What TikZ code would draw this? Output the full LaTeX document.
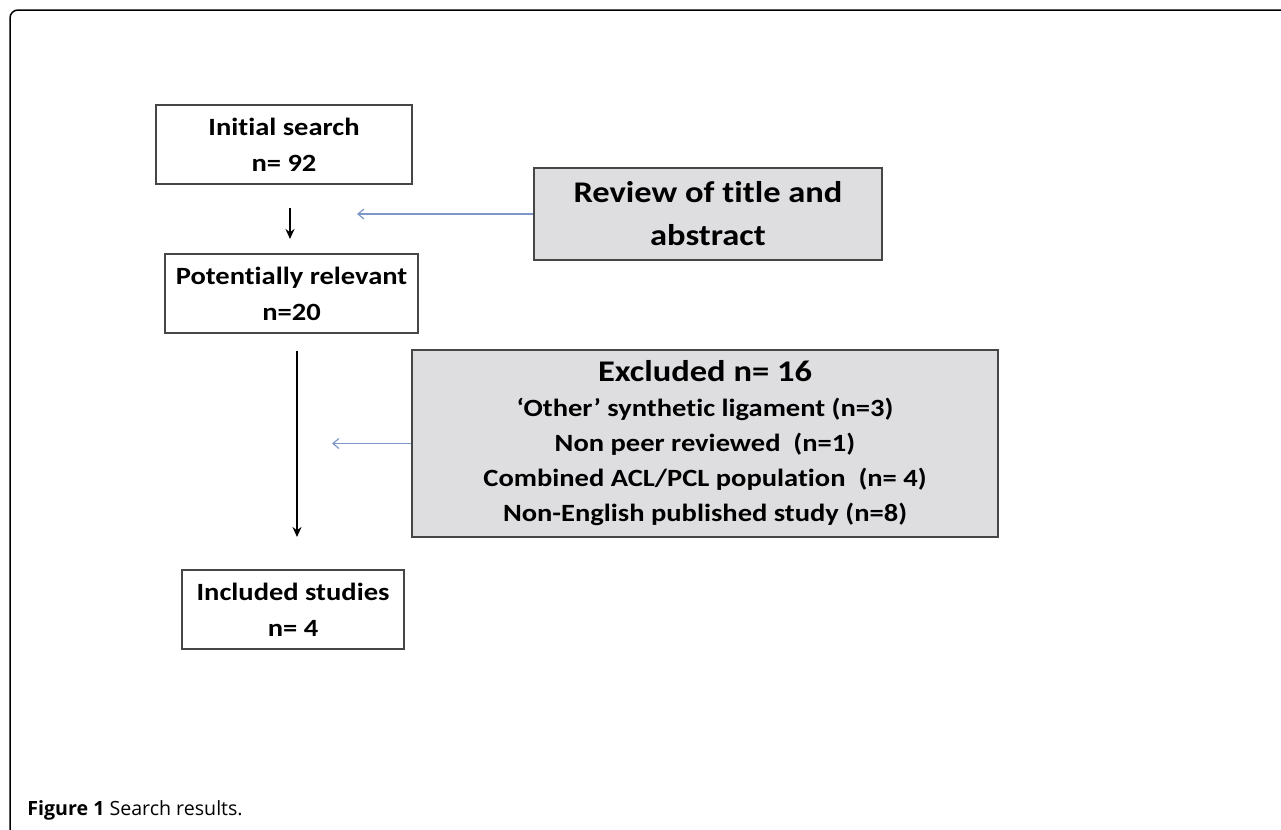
\documentclass[tikz,border=0pt]{standalone}
\usepackage{fontspec}
\newfontfamily\boxfont{Carlito}[FakeStretch=1.15,Ligatures=NoCommon]
\newfontfamily\capfont{Open Sans}
\usepackage{tikz}
\usetikzlibrary{arrows.meta}
\definecolor{boxgray}{RGB}{222,222,224}
\definecolor{edgegray}{RGB}{70,70,70}
\definecolor{linkblue}{RGB}{125,152,200}

\begin{document}
\begin{tikzpicture}[x=0.5pt,y=0.5pt,>={Stealth[length=5pt,width=4.5pt]},block/.style={draw=edgegray,line width=1pt,rectangle,align=center,inner sep=0pt,minimum height=39.5pt,font=\boxfont\bfseries\fontsize{12.4}{18}\selectfont},shaded/.style={block,fill=boxgray},flow/.style={->,line width=0.9pt},link/.style={-{Straight Barb[length=3pt,width=5pt]},linkblue,line width=0.6pt}]
  \fill[white] (0,0) rectangle (1281,-830);
  \useasboundingbox (0,0) rectangle (1281,-830);
  \draw[line width=0.75pt,rounded corners=4pt] (1281,-10) -- (10,-10) -- (10,-830);
  \node[block,minimum width=128pt] (init) at (284,-144.5) {Initial search\\n= 92};
  \node[block,minimum width=126.5pt] (pot) at (291.5,-293.5) {Potentially relevant\\n=20};
  \node[block,minimum width=111pt] (incl) at (293,-609.5) {Included studies\\n= 4};
  \node[shaded,minimum width=174pt,minimum height=46pt,font=\boxfont\bfseries\fontsize{15}{21.5}\selectfont] (review) at (708,-214) {Review of title and\\abstract};
  \node[shaded,minimum width=293pt,minimum height=93.5pt,font=\boxfont\bfseries\fontsize{12.4}{17.5}\selectfont] (excl) at (705,-443.5) {{\fontsize{15}{17.5}\selectfont Excluded n= 16}\\‘Other’ synthetic ligament (n=3)\\Non peer reviewed\ \ (n=1)\\Combined ACL/PCL population\ \ (n= 4)\\Non-English published study (n=8)};
  \coordinate (revtip) at (357,-214);
  \coordinate (excltip) at (332,-443.5);
  \draw[flow,shorten <=11.5pt,shorten >=7pt] ([xshift=3pt]init.south) -- ([xshift=-0.75pt]pot.north);
  \draw[flow,shorten <=8.5pt,shorten >=16pt] ([xshift=2.75pt]pot.south) -- ([xshift=2pt]incl.north);
  \draw[link] (review.west) -- (revtip);
  \draw[link] (excl.west) -- (excltip);
  \node[anchor=base west,inner sep=0pt,font=\capfont\fontsize{9.8}{11}\selectfont] (cap) at (27,-815) {\textbf{Figure 1} Search results.};
\end{tikzpicture}
\end{document}
